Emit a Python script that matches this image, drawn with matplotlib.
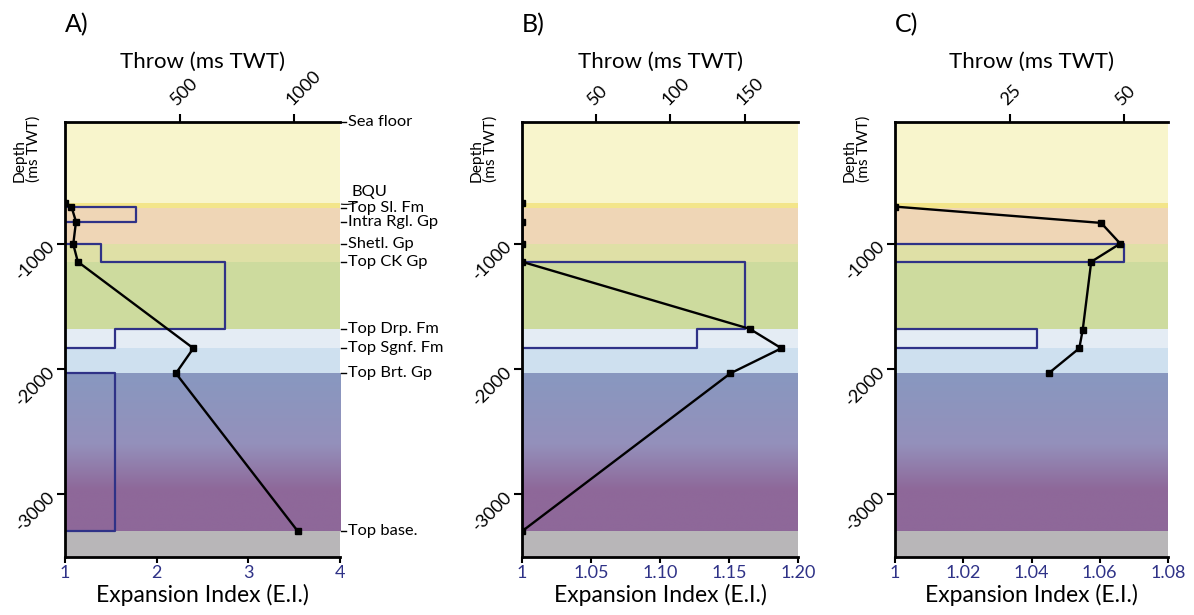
import matplotlib.pyplot as plt
import numpy as np
from matplotlib.colors import LinearSegmentedColormap

plt.rcParams['font.family'] = ['Lato', 'DejaVu Sans']

# horizon tops, ms TWT
horizon_names = ["BQU", "Top Sl. Fm", "Intra Rgl. Gp", "Shetl. Gp", "Top CK Gp",
                 "Top Drp. Fm", "Top Sgnf. Fm", "Top Brt. Gp", "Top base."]
horizon_depths = [-675, -715, -825, -1000, -1145, -1680, -1835, -2035, -3295]

# expansion index profiles
ei_depth_a = [-675, -705, -825, -1005, -1145, -1835, -2035, -3295]
ei_a = [1.0, 1.07, 1.12, 1.09, 1.14, 2.40, 2.21, 3.54]
ei_depth_b = [-675, -825, -1000, -1145, -1680, -1835, -2035, -3295]
ei_b = [1.0, 1.0, 1.0, 1.0, 1.165, 1.188, 1.151, 1.0]
ei_depth_c = [-705, -835, -1000, -1145, -1690, -1835, -2035]
ei_c = [1.0, 1.0604, 1.066, 1.0575, 1.055, 1.054, 1.045]

# throw per interval (top, base, throw in ms TWT)
throw_top_a = [-705, -825, -1000, -1145, -1680, -1835, -2035]
throw_base_a = [-825, -1000, -1145, -1680, -1835, -2035, -3295]
throw_a = [310, 0, 155, 700, 217, 0, 217]
throw_top_b = [-675, -1145, -1680, -1835]
throw_base_b = [-1145, -1680, -1835, -3295]
throw_b = [0, 150, 118, 0]
throw_top_c = [-705, -1000, -1145, -1680, -1835]
throw_base_c = [-1000, -1145, -1680, -1835, -3295]
throw_c = [0, 50, 0, 31, 0]

ei_ticks_a = [1, 2, 3, 4]
ei_labels_a = ["1", "2", "3", "4"]
ei_ticks_b = [1, 1.05, 1.10, 1.15, 1.20]
ei_labels_b = ["1", "1.05", "1.10", "1.15", "1.20"]
ei_ticks_c = [1, 1.02, 1.04, 1.06, 1.08]
ei_labels_c = ["1", "1.02", "1.04", "1.06", "1.08"]
throw_ticks_a = [500, 1000]
throw_ticks_b = [50, 100, 150]
throw_ticks_c = [25, 50]

NAVY = '#2f3287'
Y_TOP, Y_BOT = -30, -3500

# one colour per interval between horizons (None = graded fill)
band_colors = ['#f8f5cc', '#f3e58a', '#efd6b6', '#efd6b6', '#dfe0a6', '#cddb9e',
               '#e4ecf4', '#cee0ef', None, '#b8b6b8']
purple = LinearSegmentedColormap.from_list(
    'purple', [(0, '#8898c0'), (0.45, '#9490bb'), (0.74, '#8e6899'), (1, '#8e6899')])


def throw_outline(tops, bases, vals):
    xs, ys = [0], [tops[0]]
    for t, b, v in zip(tops, bases, vals):
        xs += [v, v]
        ys += [t, b]
    xs.append(0)
    ys.append(bases[-1])
    return xs, ys


fig = plt.figure(figsize=(11.94, 6.15), dpi=100)

panels = [
    ("A)", 65, 275, (1, 4), ei_ticks_a, ei_labels_a, ei_depth_a, ei_a,
     (0, 1200), throw_ticks_a, throw_top_a, throw_base_a, throw_a),
    ("B)", 522, 276, (1, 1.20), ei_ticks_b, ei_labels_b, ei_depth_b, ei_b,
     (0, 186), throw_ticks_b, throw_top_b, throw_base_b, throw_b),
    ("C)", 895, 273, (1, 1.08), ei_ticks_c, ei_labels_c, ei_depth_c, ei_c,
     (0, 59.6), throw_ticks_c, throw_top_c, throw_base_c, throw_c),
]

bounds = [Y_TOP] + horizon_depths + [Y_BOT]

axes = []
for (letter, left_px, width_px, ei_lim, ei_ticks, ei_labels, ei_depth, ei,
     throw_lim, throw_ticks, t_top, t_base, t_val) in panels:
    ax = fig.add_axes([left_px / 1194, 58 / 615, width_px / 1194, 435 / 615])
    ax2 = ax.twiny()
    ax.set_zorder(ax2.get_zorder() + 1)
    ax.patch.set_visible(False)

    # layer bands behind everything
    for i, col in enumerate(band_colors):
        top, base = bounds[i], bounds[i + 1]
        if col is None:
            ax2.imshow(np.linspace(0, 1, 256).reshape(-1, 1), cmap=purple,
                       aspect='auto', origin='upper', zorder=0,
                       extent=[throw_lim[0], throw_lim[1], base, top])
        else:
            ax2.axhspan(base, top, color=col, lw=0, zorder=0)

    xs, ys = throw_outline(t_top, t_base, t_val)
    ax2.plot(xs, ys, color=NAVY, lw=1.6, zorder=2)
    ax.plot(ei, ei_depth, color='black', lw=1.7, marker='s', ms=4, zorder=3)

    ax.set_xlim(*ei_lim)
    ax2.set_xlim(*throw_lim)
    ax.set_ylim(Y_BOT, Y_TOP)

    for s in ['top', 'right']:
        ax.spines[s].set_visible(False)
    for s in ['left', 'bottom', 'right']:
        ax2.spines[s].set_visible(False)
    for sp in [ax.spines['left'], ax.spines['bottom'], ax2.spines['top']]:
        sp.set_linewidth(2.0)

    ax.set_xticks(ei_ticks)
    ax.set_xticklabels(ei_labels, color=NAVY, fontsize=13)
    ax.tick_params(axis='x', direction='out', length=4, width=1.5, pad=2)
    ax.set_yticks([-1000, -2000, -3000])
    ax.set_yticklabels(['-1000', '-2000', '-3000'], fontsize=13,
                       rotation=45, ha='right', va='center', rotation_mode='anchor')
    ax.tick_params(axis='y', direction='out', length=6, width=1.5, pad=3)

    ax2.set_xticks(throw_ticks)
    ax2.set_xticklabels([str(t) for t in throw_ticks], fontsize=13, rotation=45,
                        ha='left', va='bottom', rotation_mode='anchor')
    ax2.tick_params(axis='x', direction='out', length=6, width=1.5, pad=4)

    ax.set_xlabel("Expansion Index (E.I.)", fontsize=16.5, labelpad=2)
    ax.text(0.5, 1.0 + 60 / 435, "Throw (ms TWT)", transform=ax.transAxes,
            ha='center', va='center', fontsize=16)
    ax.text(-38 / width_px, (557 - 182) / 435, "Depth\n(ms TWT)", transform=ax.transAxes,
            rotation=90, ha='center', va='bottom', multialignment='left',
            fontsize=11.2, linespacing=1.0)
    fig.text(left_px / 1194, 1 - 25 / 615, letter, ha='left', va='center', fontsize=18)
    axes.append(ax)

# horizon names beside panel A
ax = axes[0]
trans = ax.get_yaxis_transform()
ax.plot([1.0, 1.022], [Y_TOP, Y_TOP], transform=trans, color='black', lw=1, clip_on=False)
ax.text(1.03, Y_TOP, "Sea floor", transform=trans, ha='left', va='center', fontsize=11.8)
for name, depth in zip(horizon_names, horizon_depths):
    if name == "BQU":
        ax.annotate(name, xy=(1.005, depth - 10), xycoords=trans,
                    xytext=(1.04, depth + 85), textcoords=trans,
                    ha='left', va='center', fontsize=11.8,
                    arrowprops=dict(arrowstyle='-', lw=0.8, color='black',
                                    connectionstyle='arc3,rad=-0.3',
                                    shrinkA=0, shrinkB=0))
        continue
    ax.plot([1.005, 1.022], [depth, depth], transform=trans, color='black', lw=1,
            clip_on=False)
    ax.text(1.03, depth, name, transform=trans, ha='left', va='center', fontsize=11.8)

plt.savefig("out.png", dpi=100)
